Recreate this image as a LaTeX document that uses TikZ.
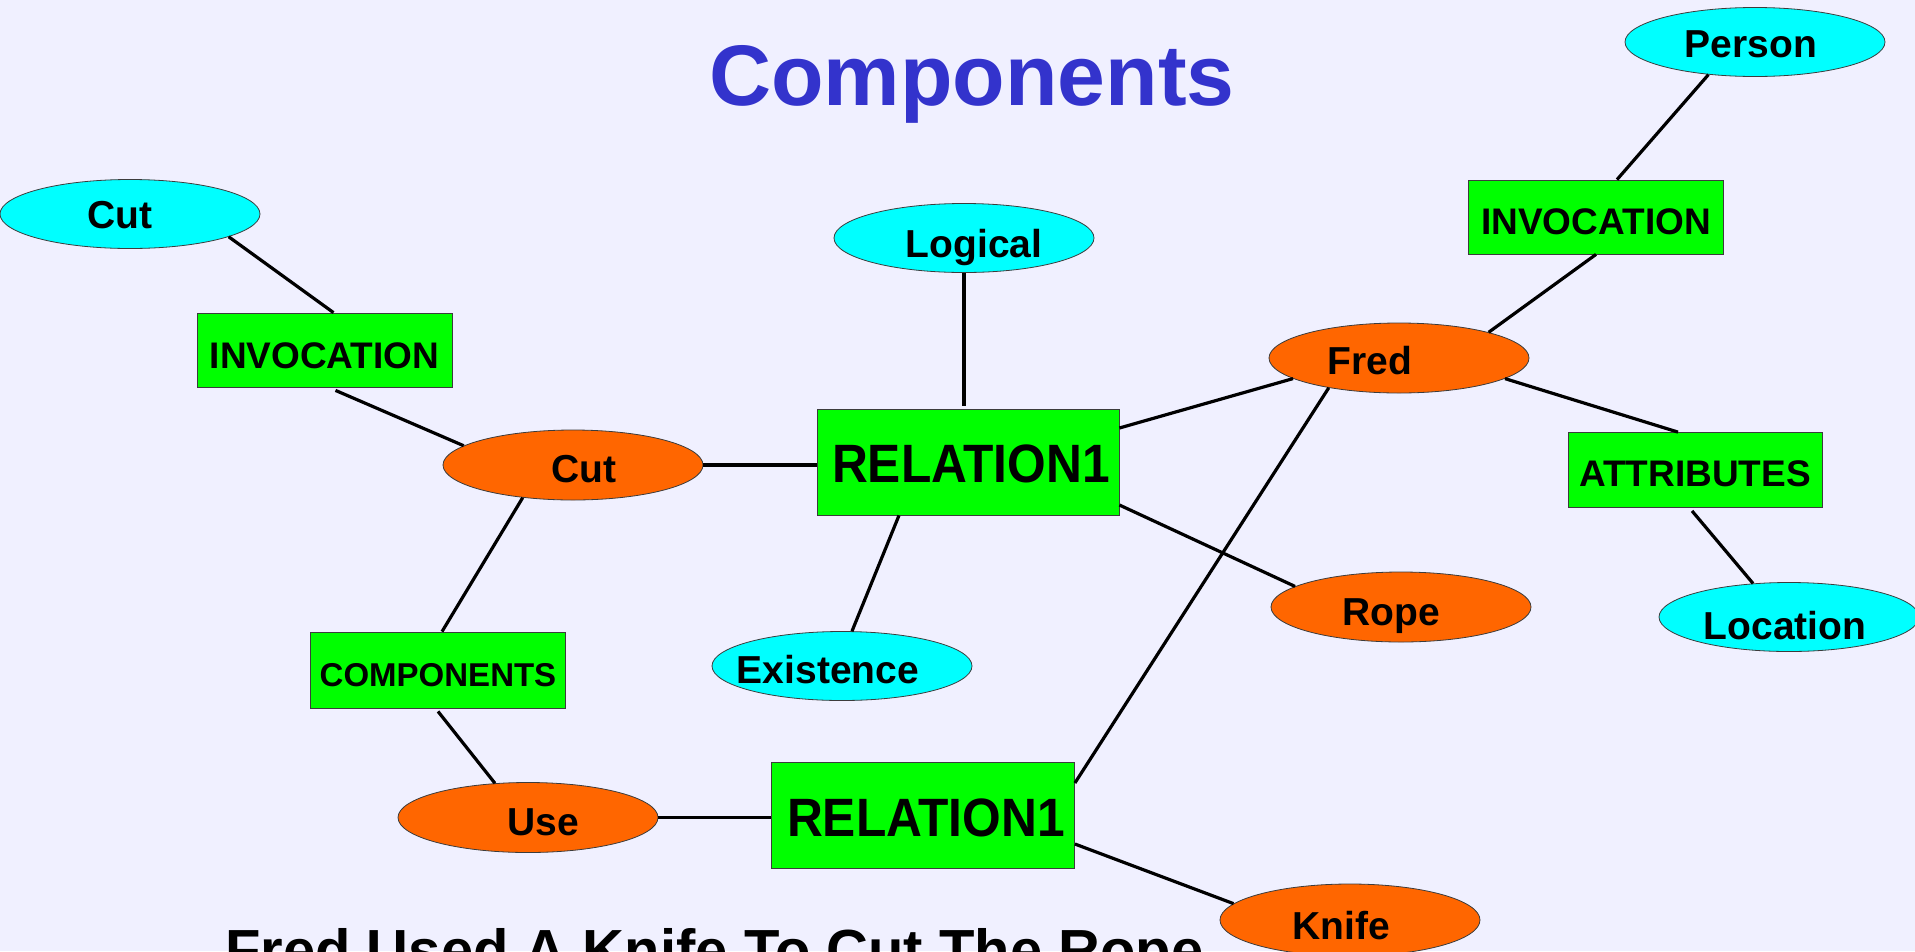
\documentclass[tikz,border=0pt]{standalone}
\usepackage{fontspec}
\usepackage{graphicx}
\setmainfont{Liberation Sans}
\usetikzlibrary{shapes.geometric}

\definecolor{bg}{RGB}{240,240,255}
\definecolor{cyanfill}{RGB}{0,255,255}
\definecolor{orangefill}{RGB}{255,102,0}
\definecolor{greenfill}{RGB}{0,255,0}
\definecolor{titleblue}{RGB}{51,51,204}
\definecolor{edge}{RGB}{60,60,60}

\begin{document}
\begin{tikzpicture}[x=1pt,y=-1pt,
  oval/.style={ellipse, draw=edge, line width=0.8pt, inner sep=0pt},
  entity/.style={oval, fill=orangefill, minimum width=260pt, minimum height=70pt},
  concept/.style={oval, fill=cyanfill, minimum width=260pt, minimum height=69pt},
  relbox/.style={rectangle, draw=edge, line width=0.8pt, fill=greenfill, inner sep=0pt},
  txt/.style={inner sep=0pt, font=\bfseries\fontsize{#1}{#1}\selectfont,
              text height=0.716*#1pt, text depth=0pt},
  lbl/.style={txt=#1, yshift=-4pt},
  link/.style={line width=3.2pt, black}]

% canvas
\path[use as bounding box, fill=bg] (0,0) rectangle (1915,951);
\clip (0,0) rectangle (1915,951);

% title
\node[txt=86, text=titleblue, anchor=base] (title) at (972,105) {Components};

% concepts (cyan)
\node[concept] (cutA)     at (130,214)    {};
\node[concept] (logical)  at (964,238)    {};
\node[concept] (exist)    at (842,666)    {};
\node[concept] (person)   at (1755,42)    {};
\node[concept] (location) at (1789,617)   {};

% entities (orange)
\node[entity] (cutB)  at (573,465)   {};
\node[entity] (use)   at (528,817.5) {};
\node[entity] (fred)  at (1399,358)  {};
\node[entity] (rope)  at (1401,607)  {};
\node[entity, minimum height=72pt] (knife) at (1350,920) {};

% relation boxes (green)
\node[relbox, minimum width=255pt, minimum height=74pt]  (inv1) at (324.5,350) {};
\node[relbox, minimum width=255pt, minimum height=76pt]  (comp) at (438,670)   {};
\node[relbox, minimum width=302pt, minimum height=106pt] (rel1) at (968,462)   {};
\node[relbox, minimum width=303pt, minimum height=106pt] (rel2) at (923,815)   {};
\node[relbox, minimum width=255pt, minimum height=74pt]  (inv2) at (1596,217)  {};
\node[relbox, minimum width=254pt, minimum height=75pt]  (attr) at (1695,470)  {};

% labels
\node[lbl=39] (cutA-t)     at ([xshift=-10pt,yshift=3pt]cutA.center) {Cut};
\node[lbl=39] (logical-t)  at ([xshift=10pt,yshift=-2pt]logical.center) {Logical};
\node[lbl=39] (exist-t)    at ([xshift=-14pt]exist.center)    {Existence};
\node[lbl=39] (person-t)   at ([xshift=-4pt,yshift=2pt]person.center) {Person};
\node[lbl=39] (location-t) at ([xshift=-4pt,yshift=-5pt]location.center) {Location};
\node[lbl=39] (cutB-t)     at ([xshift=11pt]cutB.center)      {Cut};
\node[lbl=39] (use-t)      at ([xshift=15pt]use.center)       {Use};
\node[lbl=39] (fred-t)     at ([xshift=-29pt,yshift=1pt]fred.center) {Fred};
\node[lbl=39] (rope-t)     at ([xshift=-10pt,yshift=-1pt]rope.center) {Rope};
\node[lbl=39] (knife-t)    at ([xshift=-9pt,yshift=-2pt]knife.center) {Knife};
\node[lbl=37] (inv1-t)     at ([yshift=-1pt]inv1.center)      {INVOCATION};
\node[lbl=33] (comp-t)     at ([yshift=-1pt]comp.center)      {COMPONENTS};
\node[lbl=37] (inv2-t)     at (inv2.center)                   {INVOCATION};
\node[lbl=37] (attr-t)     at ([yshift=1pt]attr.center)       {ATTRIBUTES};
\node[lbl=54] (rel1-t)     at ([xshift=3pt,yshift=3pt]rel1.center) {\scalebox{0.92}[1]{RELATION1}};
\node[lbl=54] (rel2-t)     at ([xshift=3pt,yshift=2pt]rel2.center) {\scalebox{0.92}[1]{RELATION1}};

% connectors
\draw[link] (cutA.-13) -- ([xshift=9pt]inv1.north);
\draw[link] ([xshift=11pt,yshift=-3pt]inv1.south) -- (cutB.170);
\draw[link] (cutB.east) -- (cutB.east -| rel1.west);
\draw[link] (cutB.213) -- ([xshift=4pt]comp.north);
\draw[link] ([yshift=-3pt]comp.south) -- (use.134);
\draw[link] (use.east) -- (use.east -| rel2.west);
\draw[link] (logical.south) -- ([yshift=3pt]logical.south |- rel1.north);
\draw[link] ([xshift=-69pt]rel1.south) -- (exist.74);
\draw[link] ([yshift=34pt]rel1.east) -- (fred.191);
\draw[link] ([yshift=-43pt]rel1.east) -- (rope.169);
\draw[link] ([yshift=32pt]rel2.east) -- (fred.203);
\draw[link] ([yshift=-29pt]rel2.east) -- (knife.172);
\draw[link] (fred.16) -- (inv2.south);
\draw[link] ([xshift=21pt]inv2.north) -- (person.215);
\draw[link] (fred.-11) -- ([xshift=-17pt]attr.north);
\draw[link] ([xshift=-3pt,yshift=-3pt]attr.south) -- (location.137);

% caption
\node[txt=58, anchor=base west] (caption) at (225,970) {Fred Used A Knife To Cut The Rope};
\end{tikzpicture}
\end{document}
